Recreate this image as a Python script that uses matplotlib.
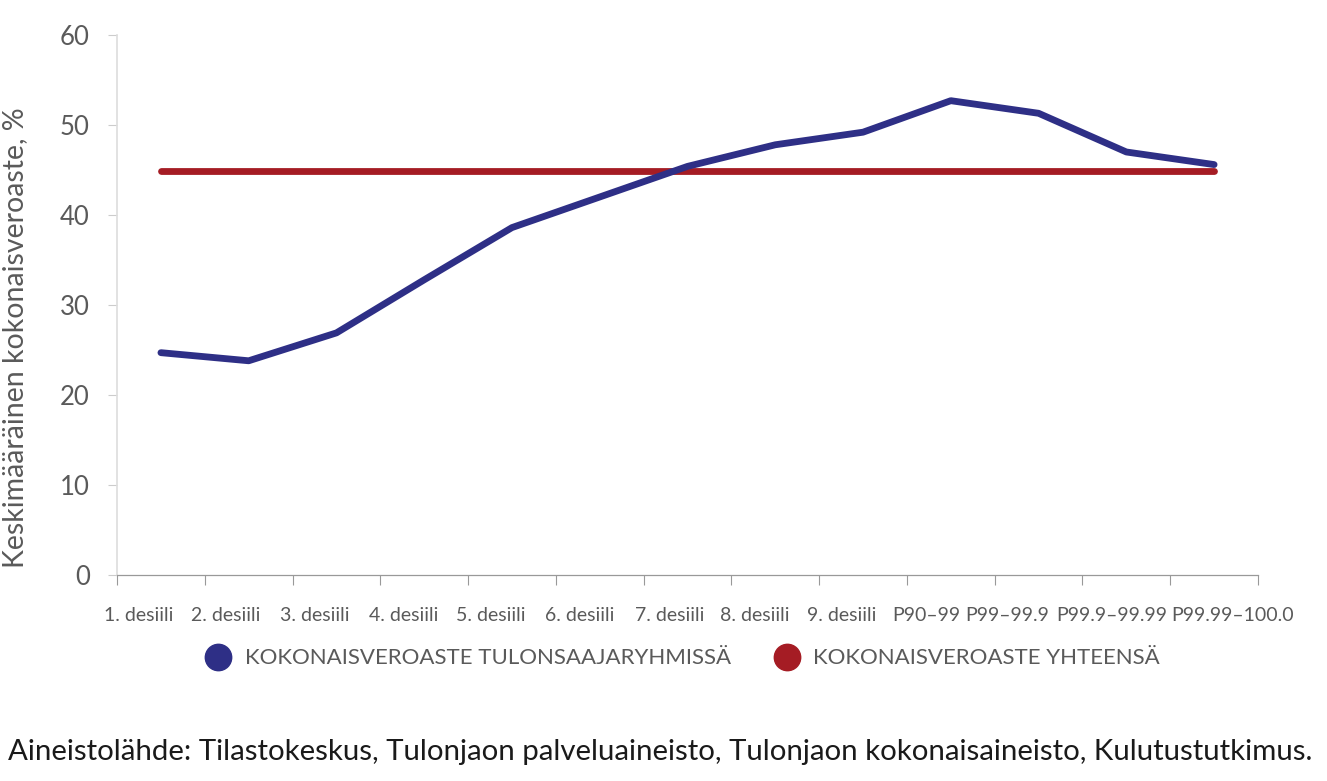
import numpy as np
import matplotlib.pyplot as plt
from matplotlib.lines import Line2D
from matplotlib.transforms import ScaledTranslation

plt.rcParams['font.family'] = ['Lato', 'DejaVu Sans']

# data
groups = ['1. desiili', '2. desiili', '3. desiili', '4. desiili', '5. desiili',
          '6. desiili', '7. desiili', '8. desiili', '9. desiili', 'P90–99',
          'P99–99.9', 'P99.9–99.99', 'P99.99–100.0']
rate_groups = [24.7, 23.8, 26.9, 32.8, 38.6, 42.0, 45.4, 47.8, 49.2, 52.7, 51.3, 47.0, 45.6]
rate_total = [44.9] * len(groups)
# the labels in the original are packed left-to-right, not centred (px)
label_shift = [-22, -23, -22, -21, -21, -20, -18, -21, -21, -25, -31, -15, 18]

blue = '#2E2F86'
red = '#A51C24'
gray = '#5A5A5A'

fig = plt.figure(figsize=(13.27, 7.81), dpi=100)
ax = fig.add_axes([0.0882, 0.2638, 0.8598, 0.6914])

x = np.arange(len(groups))
ax.plot(x, rate_groups, color=blue, lw=4.9, solid_capstyle='round', solid_joinstyle='round', zorder=3)
ax.plot(x, rate_total, color=red, lw=4.9, solid_capstyle='round', zorder=2)

ax.set_xlim(-0.5, len(groups) - 0.5)
ax.set_ylim(0, 60)
ax.set_yticks(range(0, 61, 10))
ax.tick_params(axis='y', labelsize=18.5, colors='#CCCCCC', labelcolor=gray, length=6.5, width=0.8, pad=13)

# boundary ticks and centred labels
ax.set_xticks(np.arange(len(groups) + 1) - 0.5)
ax.set_xticklabels([])
ax.tick_params(axis='x', which='major', length=7, width=0.8, colors='#999999')
ax.set_xticks(x, minor=True)
ax.set_xticklabels(groups, minor=True)
ax.tick_params(axis='x', which='minor', length=0, labelsize=14, labelcolor=gray, pad=23)
for lab, dx in zip(ax.get_xticklabels(minor=True), label_shift):
    lab.set_transform(lab.get_transform() + ScaledTranslation(dx / 100, 0, fig.dpi_scale_trans))

for s in ['top', 'right']:
    ax.spines[s].set_visible(False)
ax.spines['left'].set_color('#DDDDDD')
ax.spines['left'].set_linewidth(1.2)
ax.spines['bottom'].set_color('#999999')
ax.spines['bottom'].set_linewidth(0.9)

ax.set_ylabel('Keskimääräinen kokonaisveroaste, %', fontsize=20.5, color=gray)
ax.yaxis.set_label_coords(-0.078, 0.44)

handles = [
    Line2D([], [], marker='o', ls='none', color=blue, markersize=19),
    Line2D([], [], marker='o', ls='none', color=red, markersize=19),
]
labels = ['KOKONAISVEROASTE TULONSAAJARYHMISSÄ', 'KOKONAISVEROASTE YHTEENSÄ']
leg = fig.legend(handles, labels, loc='center', bbox_to_anchor=(0.511, 0.157), ncol=2,
                 frameon=False, fontsize=16, handletextpad=0.2, columnspacing=1.5)
for t in leg.get_texts():
    t.set_color(gray)

fig.text(0.006, 0.037, 'Aineistolähde: Tilastokeskus, Tulonjaon palveluaineisto, Tulonjaon kokonaisaineisto, Kulutustutkimus.',
         fontsize=21.2, color='#1A1A1A', ha='left', va='center')

fig.savefig('out.png', dpi=100)
